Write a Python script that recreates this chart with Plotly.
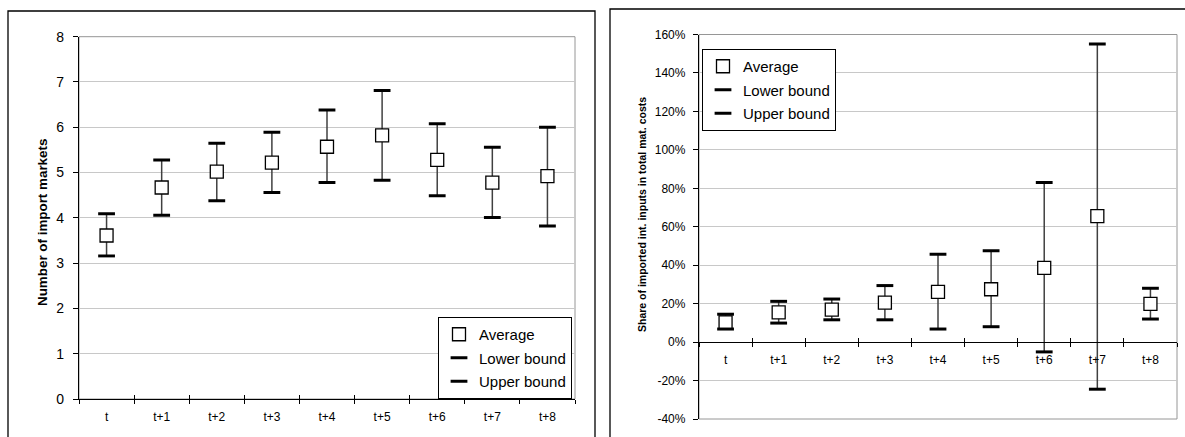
import plotly.graph_objects as go

categories = ["t", "t+1", "t+2", "t+3", "t+4", "t+5", "t+6", "t+7", "t+8"]

# Left chart: number of import markets
left_avg = [3.61, 4.67, 5.02, 5.22, 5.57, 5.82, 5.28, 4.78, 4.92]
left_low = [3.16, 4.06, 4.38, 4.56, 4.78, 4.83, 4.49, 4.01, 3.82]
left_up = [4.09, 5.28, 5.65, 5.89, 6.38, 6.81, 6.08, 5.56, 6.00]

# Right chart: share of imported intermediate inputs (%)
right_avg = [10.3, 15.5, 16.9, 20.5, 26.1, 27.5, 38.6, 65.5, 19.9]
right_low = [6.8, 9.9, 11.6, 11.6, 6.8, 8.0, -5.1, -24.5, 12.0]
right_up = [14.5, 21.2, 22.4, 29.4, 45.7, 47.5, 83.0, 155.0, 28.0]

left_yticks = [0, 1, 2, 3, 4, 5, 6, 7, 8]
right_yticks = [-40, -20, 0, 20, 40, 60, 80, 100, 120, 140, 160]
right_yticklabels = ["-40%", "-20%", "0%", "20%", "40%", "60%", "80%", "100%", "120%", "140%", "160%"]

W, H = 1185, 437
FONT = "Liberation Sans, Arial, sans-serif"


def px_x(p):
    return p / W


def px_y(p):
    return 1 - p / H


fig = go.Figure()


def add_series(xa, ya, xa_cross, avg, low, up, legend):
    hx, hy = [], []
    for c, lo, hi in zip(categories, low, up):
        hx += [c, c, None]
        hy += [lo, hi, None]
    fig.add_trace(go.Scatter(x=hx, y=hy, mode="lines", xaxis=xa, yaxis=ya,
                             line=dict(color="#404040", width=1.5),
                             showlegend=False, hoverinfo="skip", connectgaps=False))
    fig.add_trace(go.Scatter(x=categories, y=avg, mode="markers", name="Average",
                             xaxis=xa, yaxis=ya, legend=legend, legendgroup=legend + "a",
                             marker=dict(symbol="square", size=13, color="white",
                                         line=dict(color="black", width=1.3))))
    fig.add_trace(go.Scatter(x=categories, y=low, mode="markers", name="Lower bound",
                             xaxis=xa, yaxis=ya, legend=legend, legendgroup=legend + "b",
                             marker=dict(symbol="line-ew", size=12, color="black",
                                         line=dict(color="black", width=3))))
    fig.add_trace(go.Scatter(x=categories, y=up, mode="markers", name="Upper bound",
                             xaxis=xa, yaxis=ya, legend=legend, legendgroup=legend + "c",
                             marker=dict(symbol="line-ew", size=12, color="black",
                                         line=dict(color="black", width=3))))
    # invisible helper so the companion (cross-tick) axis is drawn
    fig.add_trace(go.Scatter(x=list(range(len(categories))), y=avg, mode="markers",
                             xaxis=xa_cross, yaxis=ya, marker=dict(opacity=0),
                             showlegend=False, hoverinfo="skip"))


add_series("x", "y", "x3", left_avg, left_low, left_up, "legend")
add_series("x2", "y2", "x4", right_avg, right_low, right_up, "legend2")

xd1 = [px_x(79), px_x(575)]
yd1 = [px_y(399), px_y(36.7)]
xd2 = [px_x(699), px_x(1177)]
yd2 = [px_y(419), px_y(34.5)]
zero_pos = yd2[0] + (0 - (-40)) / 200 * (yd2[1] - yd2[0])

common_x = dict(type="category", categoryorder="array", categoryarray=categories,
                range=[-0.5, len(categories) - 0.5], tickson="boundaries", ticks="outside",
                ticklen=4, tickcolor="black", showline=True, linecolor="black", linewidth=1.3,
                showgrid=False, zeroline=False, ticklabelstandoff=6, automargin=False,
                tickfont=dict(family=FONT, size=12, color="black"))

# companion axes giving the category boundary ticks their upper half (cross ticks)
cross_x = dict(type="linear", range=[-0.5, len(categories) - 0.5], tick0=-0.5, dtick=1,
               ticks="inside", ticklen=4, tickcolor="black", showticklabels=False,
               showline=False, showgrid=False, zeroline=False, automargin=False,
               fixedrange=True)

legend_common = dict(bgcolor="white", bordercolor="black", borderwidth=1,
                     font=dict(family=FONT, size=15, color="black"),
                     xanchor="left", yanchor="top", tracegroupgap=1,
                     traceorder="grouped", itemsizing="trace")

fig.update_layout(
    width=W, height=H, margin=dict(l=0, r=0, t=0, b=0, pad=0, autoexpand=False),
    paper_bgcolor="white", plot_bgcolor="white",
    font=dict(family=FONT, color="black"),
    xaxis=dict(domain=xd1, anchor="y", **common_x),
    yaxis=dict(domain=yd1, anchor="x", range=[0, 8], tickvals=left_yticks,
               ticks="outside", ticklen=5, tickcolor="black", showline=True,
               linecolor="black", linewidth=1.3, showgrid=True, gridcolor="#c8c8c8",
               gridwidth=1, zeroline=False, ticklabelstandoff=6, automargin=False,
               tickfont=dict(family=FONT, size=14, color="black")),
    xaxis2=dict(domain=xd2, anchor="free", position=zero_pos, **common_x),
    yaxis2=dict(domain=yd2, anchor="x2", range=[-40, 160], tickvals=right_yticks,
                ticktext=right_yticklabels, ticks="outside", ticklen=5, tickcolor="black",
                showline=True, linecolor="black", linewidth=1.3, showgrid=True,
                gridcolor="#c8c8c8", gridwidth=1, zeroline=False, ticklabelstandoff=5,
                automargin=False,
                tickfont=dict(family=FONT, size=12, color="black")),
    xaxis3=dict(overlaying="x", anchor="y", **cross_x),
    xaxis4=dict(overlaying="x2", anchor="free", position=zero_pos, **cross_x),
    legend=dict(x=px_x(438), y=px_y(317), **legend_common),
    legend2=dict(x=px_x(702), y=px_y(49), **legend_common),
    showlegend=True,
)

shapes = [
    # outer chart frames
    dict(type="rect", xref="paper", yref="paper", x0=px_x(8), x1=px_x(595),
         y0=-0.1, y1=px_y(11), line=dict(color="black", width=1.3), layer="below"),
    dict(type="rect", xref="paper", yref="paper", x0=px_x(610), x1=1.1,
         y0=-0.1, y1=px_y(9), line=dict(color="black", width=1.3), layer="below"),
    # plot area borders
    dict(type="rect", xref="x domain", yref="y domain", x0=0, x1=1, y0=0, y1=1,
         line=dict(color="#969696", width=1), layer="below"),
    dict(type="rect", xref="x2 domain", yref="y2 domain", x0=0, x1=1, y0=0, y1=1,
         line=dict(color="#969696", width=1), layer="below"),
]
fig.update_layout(shapes=shapes)

fig.add_annotation(text="<b>Number of import markets</b>", textangle=-90,
                   xref="paper", yref="paper", x=px_x(42), y=px_y(223),
                   xanchor="center", yanchor="middle",
                   showarrow=False, font=dict(family=FONT, size=13.4, color="black"))
fig.add_annotation(text="<b>Share of imported int. inputs in total mat. costs</b>", textangle=-90,
                   xref="paper", yref="paper", x=px_x(642), y=px_y(215),
                   xanchor="center", yanchor="middle",
                   showarrow=False, font=dict(family=FONT, size=10.5, color="black"))

fig.write_html("out.html")
